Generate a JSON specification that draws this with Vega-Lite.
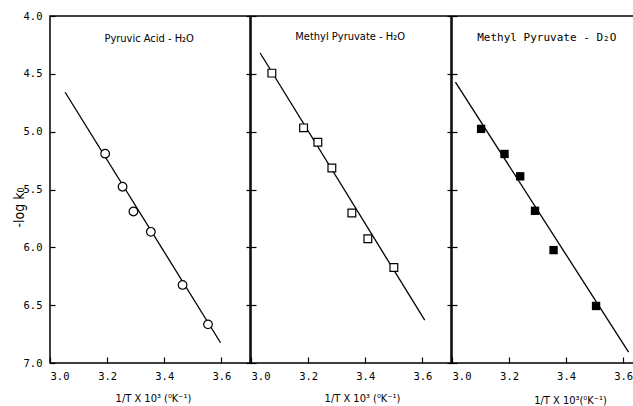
{
  "$schema": "https://vega.github.io/schema/vega-lite/v6.json",
  "background": "white",
  "padding": {"left": 11, "top": 10, "right": 0, "bottom": 0},
  "spacing": -8,
  "config": {
    "view": {"stroke": "black", "strokeWidth": 1.5},
    "axis": {
      "labelFont": "DejaVu Sans Mono", "labelFontSize": 10.5, "labelColor": "black",
      "titleFont": "DejaVu Sans Condensed", "titleFontSize": 11, "titleFontWeight": "normal", "titleColor": "black",
      "domain": false, "grid": false, "tickColor": "black", "tickWidth": 1.2
    }
  },
  "datasets": {
    "points": [
      {"panel": 1, "x": 3.193, "y": 5.19},
      {"panel": 1, "x": 3.254, "y": 5.476},
      {"panel": 1, "x": 3.292, "y": 5.69},
      {"panel": 1, "x": 3.353, "y": 5.866},
      {"panel": 1, "x": 3.464, "y": 6.325},
      {"panel": 1, "x": 3.553, "y": 6.666},
      {"panel": 2, "x": 3.073, "y": 4.494},
      {"panel": 2, "x": 3.184, "y": 4.967},
      {"panel": 2, "x": 3.234, "y": 5.092},
      {"panel": 2, "x": 3.283, "y": 5.314},
      {"panel": 2, "x": 3.353, "y": 5.704},
      {"panel": 2, "x": 3.409, "y": 5.926},
      {"panel": 2, "x": 3.5, "y": 6.175},
      {"panel": 3, "x": 3.102, "y": 4.976},
      {"panel": 3, "x": 3.184, "y": 5.193},
      {"panel": 3, "x": 3.239, "y": 5.386},
      {"panel": 3, "x": 3.291, "y": 5.684},
      {"panel": 3, "x": 3.356, "y": 6.024},
      {"panel": 3, "x": 3.505, "y": 6.507}
    ],
    "lines": [
      {"panel": 1, "x": 3.053, "y": 4.659},
      {"panel": 1, "x": 3.597, "y": 6.825},
      {"panel": 2, "x": 3.032, "y": 4.32},
      {"panel": 2, "x": 3.608, "y": 6.63},
      {"panel": 3, "x": 3.012, "y": 4.572},
      {"panel": 3, "x": 3.619, "y": 6.906}
    ]
  },
  "hconcat": [
    {
      "width": 200, "height": 347,
      "layer": [
        {
          "data": {"name": "lines"},
          "transform": [{"filter": "datum.panel == 1"}],
          "mark": {"type": "line", "color": "black", "strokeWidth": 1.3},
          "encoding": {
            "x": {"field": "x", "type": "quantitative",
              "scale": {"domain": [3.0, 3.7], "nice": false, "zero": false},
              "axis": {"values": [3.0, 3.2, 3.4, 3.6], "format": ".1f", "tickSize": 6, "offset": -6, "labelPadding": 8,
                "title": "1/T X 10³ (⁰K⁻¹)", "titleX": 103, "titleY": 41, "titleBaseline": "middle"}},
            "y": {"field": "y", "type": "quantitative",
              "scale": {"domain": [4, 7], "reverse": true, "nice": false, "zero": false},
              "axis": {"values": [4, 4.5, 5, 5.5, 6, 6.5, 7], "format": ".1f", "tickSize": 5, "offset": -5, "labelPadding": 8,
                "title": "-log k₀", "titleFontSize": 14, "titleX": -36, "titleY": 191, "titleBaseline": "middle"}}
          }
        },
        {
          "data": {"name": "points"},
          "transform": [{"filter": "datum.panel == 1"}],
          "mark": {"type": "point", "shape": "circle", "filled": true, "fill": "white", "stroke": "black", "strokeWidth": 1.2, "size": 75, "opacity": 1},
          "encoding": {
            "x": {"field": "x", "type": "quantitative"},
            "y": {"field": "y", "type": "quantitative"}
          }
        },
        {
          "data": {"values": [{}]},
          "mark": {"type": "text", "font": "DejaVu Sans Condensed", "fontSize": 11, "color": "black"},
          "encoding": {
            "x": {"datum": 3.347, "type": "quantitative"},
            "y": {"datum": 4.196, "type": "quantitative"},
            "text": {"value": "Pyruvic Acid - H₂O"}
          }
        }
      ]
    },
    {
      "width": 200, "height": 347,
      "layer": [
        {
          "data": {"name": "lines"},
          "transform": [{"filter": "datum.panel == 2"}],
          "mark": {"type": "line", "color": "black", "strokeWidth": 1.3},
          "encoding": {
            "x": {"field": "x", "type": "quantitative",
              "scale": {"domain": [3.0, 3.7], "nice": false, "zero": false},
              "axis": {"values": [3.0, 3.2, 3.4, 3.6], "format": ".1f", "tickSize": 6, "offset": -6, "labelPadding": 8,
                "title": "1/T X 10³ (⁰K⁻¹)", "titleX": 111, "titleY": 41, "titleBaseline": "middle"}},
            "y": {"field": "y", "type": "quantitative",
              "scale": {"domain": [4, 7], "reverse": true, "nice": false, "zero": false},
              "axis": {"values": [4, 4.5, 5, 5.5, 6, 6.5, 7], "tickSize": 10, "offset": -5, "labels": false, "title": null}}
          }
        },
        {
          "data": {"name": "points"},
          "transform": [{"filter": "datum.panel == 2"}],
          "mark": {"type": "point", "shape": "square", "filled": true, "fill": "white", "stroke": "black", "strokeWidth": 1.2, "size": 60, "opacity": 1},
          "encoding": {
            "x": {"field": "x", "type": "quantitative"},
            "y": {"field": "y", "type": "quantitative"}
          }
        },
        {
          "data": {"values": [{}]},
          "mark": {"type": "text", "font": "DejaVu Sans Condensed", "fontSize": 11, "color": "black"},
          "encoding": {
            "x": {"datum": 3.347, "type": "quantitative"},
            "y": {"datum": 4.18, "type": "quantitative"},
            "text": {"value": "Methyl Pyruvate - H₂O"}
          }
        }
      ]
    },
    {
      "width": 184, "height": 347,
      "layer": [
        {
          "data": {"name": "lines"},
          "transform": [{"filter": "datum.panel == 3"}],
          "mark": {"type": "line", "color": "black", "strokeWidth": 1.3},
          "encoding": {
            "x": {"field": "x", "type": "quantitative",
              "scale": {"domain": [3.0, 3.645], "nice": false, "zero": false},
              "axis": {"values": [3.0, 3.2, 3.4, 3.6], "format": ".1f", "tickSize": 6, "offset": -6, "labelPadding": 8,
                "title": "1/T X 10³(⁰K⁻¹)", "titleX": 118, "titleY": 43, "titleBaseline": "middle"}},
            "y": {"field": "y", "type": "quantitative",
              "scale": {"domain": [4, 7], "reverse": true, "nice": false, "zero": false},
              "axis": {"values": [4, 4.5, 5, 5.5, 6, 6.5, 7], "tickSize": 10, "offset": -5, "labels": false, "title": null}}
          }
        },
        {
          "data": {"name": "points"},
          "transform": [{"filter": "datum.panel == 3"}],
          "mark": {"type": "point", "shape": "square", "filled": true, "color": "black", "size": 70, "opacity": 1},
          "encoding": {
            "x": {"field": "x", "type": "quantitative"},
            "y": {"field": "y", "type": "quantitative"}
          }
        },
        {
          "data": {"values": [{}]},
          "mark": {"type": "text", "font": "DejaVu Sans Mono", "fontSize": 11, "color": "black"},
          "encoding": {
            "x": {"datum": 3.332, "type": "quantitative"},
            "y": {"datum": 4.187, "type": "quantitative"},
            "text": {"value": "Methyl Pyruvate - D₂O"}
          }
        }
      ]
    }
  ],
  "resolve": {"scale": {"x": "independent", "y": "independent"}}
}
